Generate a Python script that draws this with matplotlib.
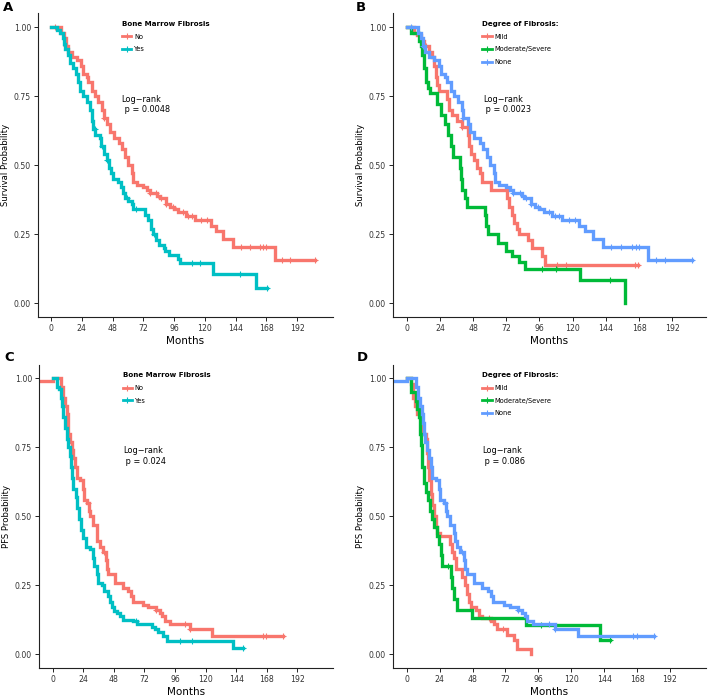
import numpy as np
import matplotlib.pyplot as plt
from matplotlib.lines import Line2D

plt.rcParams['font.family'] = 'DejaVu Sans'

RED = '#F8766D'
TEAL = '#00BFC4'
GREEN = '#00BA38'
BLUE = '#619CFF'

# Kaplan-Meier steps: (month, probability from that month on)
os_no = [(0, 1.0), (8, .98), (10, .96), (12, .93), (13.5, .91), (16, .89), (20, .88), (23, .86),
         (25, .83), (28, .82), (29, .80), (32, .77), (34, .75), (37, .73), (40, .70), (41, .67),
         (44, .65), (46, .62), (49, .60), (53, .58), (55, .56), (58, .53), (60, .50), (63, .47),
         (64, .44), (67, .43), (72, .42), (75, .41), (77, .40), (83, .39), (85, .38), (90, .36),
         (93, .35), (96, .34), (99, .332), (105, .317), (112, .30), (124.6, .28), (128.7, .26),
         (134.5, .232), (141.8, .205), (174.8, .157), (206, .157)]
os_no_cens = [3, 12, 41, 77, 82, 86, 90, 95, 103, 107, 110, 117, 122, 148, 155, 163, 165.5, 168, 180, 186.5, 206]

os_yes = [(0, 1.0), (5, .99), (7, .98), (9, .96), (10, .94), (11, .92), (13, .90), (15, .87),
          (17.5, .85), (19.5, .83), (21, .80), (22.7, .77), (25, .75), (28, .73), (30, .70),
          (32, .66), (33, .63), (34.4, .61), (38, .60), (39, .57), (41, .54), (43.5, .52),
          (45.6, .49), (46.6, .47), (48.7, .45), (52.6, .44), (54.4, .42), (56, .40), (57.8, .38),
          (60.4, .37), (63, .36), (64.3, .342), (73.5, .32), (76, .30), (78, .27), (79.5, .25),
          (82, .23), (84, .21), (88, .20), (89, .19), (91.7, .175), (98.7, .16), (100.8, .145),
          (126.5, .107), (160, .055), (168.6, .055)]
os_yes_cens = [34, 40, 44, 59, 66, 80, 110, 116, 147.5, 168.6]

os_mild = [(0, 1.0), (5.3, .98), (7.7, .97), (10, .95), (12.5, .93), (16, .91), (18.5, .89),
           (20, .86), (21, .82), (22, .79), (23.4, .77), (29, .74), (30.6, .70), (33, .68),
           (36.6, .66), (40, .64), (44, .61), (45, .57), (46.7, .54), (48.7, .52), (51, .49),
           (53, .47), (54.7, .44), (61, .41), (72.3, .38), (74, .35), (76.4, .32), (77.6, .29),
           (79.5, .27), (81, .25), (87.7, .23), (90.8, .20), (97.7, .17), (100, .14), (167.4, .14)]
os_mild_cens = [14, 40, 108.5, 115, 165, 167.4]

os_mod = [(0, 1.0), (3, .98), (9, .95), (10, .93), (11.3, .90), (12.5, .85), (13.7, .80),
          (15.4, .78), (17, .76), (22.2, .72), (25, .68), (27.5, .65), (30, .61), (31.8, .57),
          (33.7, .53), (38.5, .49), (39.5, .45), (40.2, .41), (42, .38), (43.8, .35), (56.4, .32),
          (57.6, .28), (58.8, .25), (66, .22), (71.5, .19), (76.4, .17), (81.2, .15), (85.3, .125),
          (125.5, .083), (158, 0.0)]
os_mod_cens = [98, 108, 147]

pfs_no = [(-15, .99), (0, 1.0), (6.5, .97), (8.4, .93), (9.7, .90), (11, .87), (11.8, .84),
          (12.3, .80), (13.6, .77), (15, .74), (16.2, .71), (17.5, .68), (18.8, .64), (21.5, .63),
          (23.5, .60), (24.6, .56), (27.2, .55), (28.8, .52), (29.3, .50), (31.4, .47), (34.5, .44),
          (35, .41), (37, .39), (39.2, .37), (41.9, .34), (42.4, .31), (43.7, .29), (49, .26),
          (55, .24), (59, .23), (61.5, .21), (62.8, .19), (71, .18), (75, .17), (81, .16),
          (84, .15), (86, .14), (88, .12), (92, .11), (107.8, .09), (124.8, .066), (180.5, .066)]
pfs_no_cens = [28, 40, 81, 104, 108, 165, 167.7, 180.5]

pfs_yes = [(0, 1.0), (3.7, .97), (5.2, .96), (6.3, .93), (7, .90), (8.4, .86), (9.7, .82),
           (11, .78), (12.3, .75), (13.6, .72), (14.4, .68), (15.4, .64), (16.2, .60), (18.3, .57),
           (19.4, .53), (20.4, .49), (22, .45), (24, .42), (25.9, .39), (29.3, .38), (31.4, .35),
           (32.4, .32), (34.5, .29), (35.8, .26), (38.5, .25), (40.5, .23), (43.7, .21), (45, .19),
           (46.3, .17), (48.1, .155), (50.2, .15), (52.8, .14), (55.5, .125), (63.3, .12),
           (66, .11), (77.7, .10), (80.3, .09), (83, .08), (86.8, .065), (89.5, .048),
           (141.5, .023), (149, .023)]
pfs_yes_cens = [65, 100, 109, 149]

pfs_mild = [(0, 1.0), (3, .98), (4.9, .93), (6, .90), (7.8, .87), (10.2, .83), (12.2, .80),
            (13.9, .78), (15, .73), (15.6, .68), (16.3, .63), (17.5, .58), (18.7, .54), (20, .50),
            (21.1, .46), (22.4, .44), (24.3, .43), (31.6, .40), (33.3, .37), (34.5, .35),
            (35.7, .31), (40.6, .28), (42.5, .25), (44.2, .22), (45.4, .19), (46.7, .17),
            (50.3, .16), (52.7, .14), (55.2, .13), (61.2, .12), (63.7, .11), (66, .09),
            (73.4, .07), (78.2, .05), (80.7, .02), (90.4, 0.0)]
pfs_mild_cens = [60, 70]

pfs_mod = [(0, 1.0), (3.4, .95), (6.6, .92), (7.3, .89), (9, .86), (9.7, .80), (10.2, .76),
           (10.9, .72), (11.4, .68), (12.6, .62), (14.3, .59), (15.6, .56), (17, .52), (18.2, .49),
           (20, .46), (21.9, .43), (23.6, .40), (24.8, .36), (26, .32), (32.6, .28), (33.3, .24),
           (34.5, .20), (36.5, .16), (47.9, .13), (86.8, .105), (141.2, .053), (148.5, .053)]
pfs_mod_cens = [30, 98, 148.5]

x_ticks = [0, 24, 48, 72, 96, 120, 144, 168, 192]
y_ticks = [0, 0.25, 0.5, 0.75, 1.0]


def step_at(curve, times):
    t = np.array([p[0] for p in curve])
    s = np.array([p[1] for p in curve])
    idx = np.searchsorted(t, times, side='right') - 1
    return s[np.clip(idx, 0, len(s) - 1)]


def draw_curve(ax, curve, cens, color):
    t = [p[0] for p in curve]
    s = [p[1] for p in curve]
    ax.plot(t, s, drawstyle='steps-post', color=color, lw=2.4, solid_joinstyle='miter')
    ax.plot(cens, step_at(curve, cens), ls='none', marker='+', ms=5, mew=0.8, color=color)


def style_axes(ax, ylabel, xlim):
    ax.set_xlim(*xlim)
    ax.set_ylim(-0.05, 1.05)
    ax.set_xticks(x_ticks)
    ax.set_yticks(y_ticks)
    ax.set_yticklabels(['%.2f' % v for v in y_ticks])
    for side in ['top', 'right']:
        ax.spines[side].set_visible(False)
    for side in ['left', 'bottom']:
        ax.spines[side].set_linewidth(0.8)
        ax.spines[side].set_color('#222222')
    ax.tick_params(length=3, width=0.6, labelsize=5.6, labelcolor='#333333', pad=2)
    ax.set_xlabel('Months', fontsize=7.5, labelpad=2)
    ax.set_ylabel(ylabel, fontsize=6.1, labelpad=3)


def add_legend(ax, title, labels, colors):
    handles = [Line2D([], [], color=c, lw=2.0, marker='+', ms=4, mew=0.8) for c in colors]
    ax.legend(handles, labels, title=title, loc='upper left', bbox_to_anchor=(0.285, 0.975),
              frameon=False, fontsize=4.8, title_fontproperties={'weight': 'bold', 'size': 5.1},
              handlelength=1.4, handletextpad=0.4, labelspacing=1.0, borderpad=0,
              borderaxespad=0, alignment='left')


fig = plt.figure(figsize=(7.09, 6.97), dpi=100)
axA = fig.add_axes([0.0536, 0.545, 0.416, 0.436])
axB = fig.add_axes([0.5543, 0.545, 0.4415, 0.436])
axC = fig.add_axes([0.055, 0.0416, 0.4147, 0.4352])
axD = fig.add_axes([0.5543, 0.0416, 0.4415, 0.4352])

# A: overall survival by fibrosis yes/no
draw_curve(axA, os_no, os_no_cens, RED)
draw_curve(axA, os_yes, os_yes_cens, TEAL)
style_axes(axA, 'Survival Probability', (-10.2, 220))
add_legend(axA, 'Bone Marrow Fibrosis', ['No', 'Yes'], [RED, TEAL])
axA.text(55, 0.72, 'Log\u2212rank\n p = 0.0048', fontsize=5.9, va='center', ha='left', linespacing=1.25)

# B: overall survival by degree
draw_curve(axB, os_mild, os_mild_cens, RED)
draw_curve(axB, os_mod, os_mod_cens, GREEN)
draw_curve(axB, os_no, os_no_cens, BLUE)
style_axes(axB, 'Survival Probability', (-9.9, 216.4))
add_legend(axB, 'Degree of Fibrosis:', ['Mild', 'Moderate/Severe', 'None'], [RED, GREEN, BLUE])
axB.text(55, 0.72, 'Log\u2212rank\n p = 0.0023', fontsize=5.9, va='center', ha='left', linespacing=1.25)

# C: PFS by fibrosis yes/no
draw_curve(axC, pfs_no, pfs_no_cens, RED)
draw_curve(axC, pfs_yes, pfs_yes_cens, TEAL)
style_axes(axC, 'PFS Probability', (-10.8, 220))
add_legend(axC, 'Bone Marrow Fibrosis', ['No', 'Yes'], [RED, TEAL])
axC.text(55, 0.72, 'Log\u2212rank\n p = 0.024', fontsize=5.9, va='center', ha='left', linespacing=1.25)

# D: PFS by degree
draw_curve(axD, pfs_mild, pfs_mild_cens, RED)
draw_curve(axD, pfs_mod, pfs_mod_cens, GREEN)
draw_curve(axD, pfs_no, pfs_no_cens, BLUE)
style_axes(axD, 'PFS Probability', (-10, 218.3))
add_legend(axD, 'Degree of Fibrosis:', ['Mild', 'Moderate/Severe', 'None'], [RED, GREEN, BLUE])
axD.text(55, 0.72, 'Log\u2212rank\n p = 0.086', fontsize=5.9, va='center', ha='left', linespacing=1.25)

for lab, x, y in [('A', 0.004, 0.989), ('B', 0.502, 0.989), ('C', 0.006, 0.487), ('D', 0.503, 0.487)]:
    fig.text(x, y, lab, fontsize=9.5, fontweight='bold', va='center', ha='left')

fig.savefig('out.png', dpi=100)
